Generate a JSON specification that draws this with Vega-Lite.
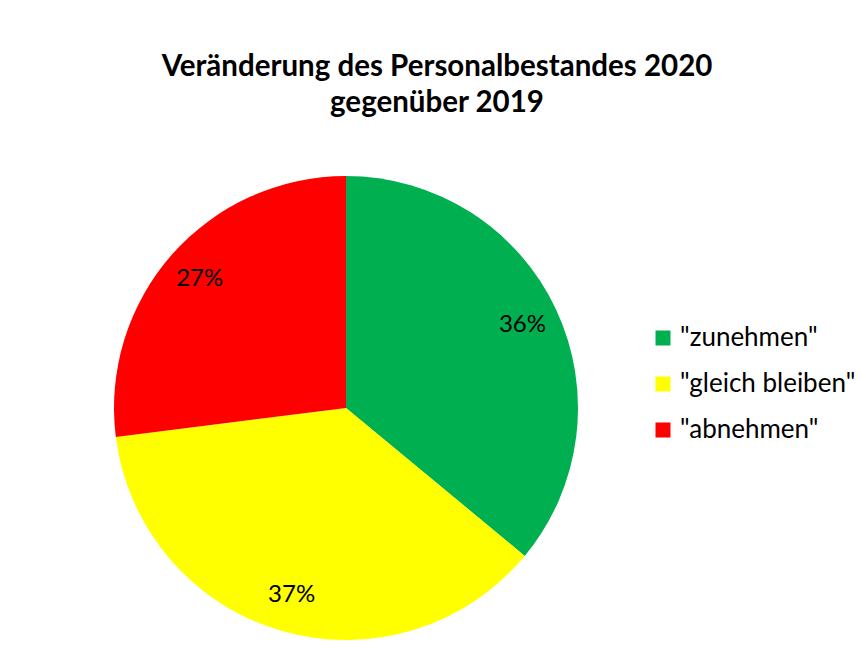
{
  "$schema": "https://vega.github.io/schema/vega-lite/v6.json",
  "width": 464,
  "height": 464,
  "autosize": {"type": "none"},
  "padding": {"left": 114, "top": 176, "right": 288, "bottom": 10},
  "background": "white",
  "title": {
    "text": ["Veränderung des Personalbestandes 2020", "gegenüber 2019"],
    "font": "Lato",
    "fontSize": 29.5,
    "fontWeight": "bold",
    "color": "black",
    "anchor": "middle",
    "dx": 91,
    "offset": 58,
    "lineHeight": 36
  },
  "data": {
    "values": [
      {"category": "\"zunehmen\"", "share": 36, "label": "36%", "idx": 1},
      {"category": "\"gleich bleiben\"", "share": 37, "label": "37%", "idx": 2},
      {"category": "\"abnehmen\"", "share": 27, "label": "27%", "idx": 3}
    ]
  },
  "encoding": {
    "theta": {"field": "share", "type": "quantitative", "stack": true},
    "order": {"field": "idx", "type": "quantitative"}
  },
  "layer": [
    {
      "mark": {"type": "arc"},
      "encoding": {
        "color": {
          "field": "category",
          "type": "nominal",
          "scale": {
            "domain": ["\"zunehmen\"", "\"gleich bleiben\"", "\"abnehmen\""],
            "range": ["#00B050", "#FFFF00", "#FF0000"]
          },
          "legend": {
            "title": null,
            "orient": "none",
            "legendX": 536,
            "legendY": 149,
            "symbolType": "square",
            "symbolSize": 225,
            "symbolStrokeWidth": 0,
            "labelFont": "Lato",
            "labelFontSize": 26,
            "labelColor": "black",
            "labelOffset": 4,
            "labelLimit": 0,
            "rowPadding": 20
          }
        }
      }
    },
    {
      "mark": {"type": "text", "radius": 195, "font": "Lato", "fontSize": 24, "color": "black"},
      "encoding": {
        "text": {"field": "label", "type": "nominal"},
        "detail": {"field": "category", "type": "nominal"}
      }
    }
  ],
  "config": {"view": {"stroke": null}}
}
